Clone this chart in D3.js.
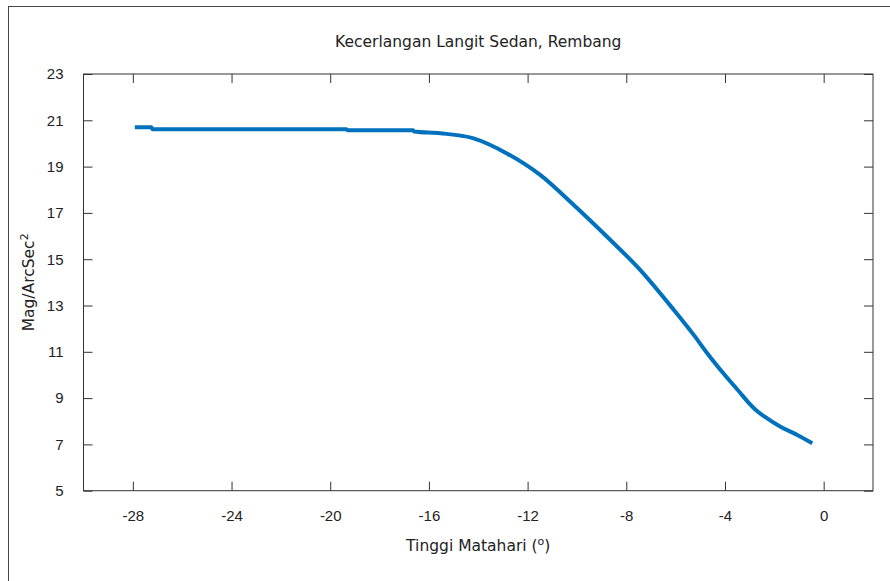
<!DOCTYPE html>
<html>
<head>
<meta charset="utf-8">
<script src="https://cdn.jsdelivr.net/npm/d3@7"></script>
<style>
  body { margin: 0; background: #fff; }
  svg { display: block; font-family: "DejaVu Sans", Verdana, sans-serif; }
  .axis line, .axis path { stroke: #333; }
  .axis text { fill: #222; font-size: 15px; }
</style>
</head>
<body>
<div id="chart"></div>
<script>
// sun altitude (deg) and sky brightness (mag/arcsec^2)
var altitude = [-27.92, -27.25, -27.2, -19.35, -19.3, -16.65, -16.6, -15.54, -14.19, -12.84,
    -11.49, -10.13, -8.78, -7.43, -6.08, -5.26, -4.72, -4.05, -3.37, -3.10, -2.69, -2.42,
    -1.75, -1.07, -0.46];
var brightness = [20.70, 20.70, 20.61, 20.61, 20.57, 20.57, 20.52, 20.44, 20.22, 19.57,
    18.64, 17.34, 15.97, 14.53, 12.82, 11.72, 10.94, 10.05, 9.21, 8.87, 8.43, 8.22,
    7.76, 7.41, 7.05];
var xTicks = [-28, -24, -20, -16, -12, -8, -4, 0];
var yTicks = [5, 7, 9, 11, 13, 15, 17, 19, 21, 23];

var width = 890, height = 581;
var plotLeft = 83.5, plotRight = 873, plotTop = 74, plotBottom = 490.7;

var svg = d3.select("#chart").append("svg")
    .attr("width", width)
    .attr("height", height);

// outer frame
svg.append("rect")
    .attr("x", 8.5).attr("y", 6.5)
    .attr("width", width).attr("height", height)
    .attr("fill", "none")
    .attr("stroke", "#444");

var x = d3.scaleLinear().domain([-30, 2]).range([plotLeft, plotRight]);
var y = d3.scaleLinear().domain([5, 23]).range([plotBottom, plotTop]);

var data = altitude.map(function (a, i) { return { a: a, m: brightness[i] }; });
var plain = function (d) { return String(d); };

// axes with inward ticks, mirrored on top and right
svg.append("g").attr("class", "axis")
    .attr("transform", "translate(0," + plotBottom + ")")
    .call(d3.axisBottom(x).tickValues(xTicks).tickSize(-9).tickPadding(20).tickSizeOuter(0).tickFormat(plain))
    .call(function (g) { g.select(".domain").remove(); });
svg.append("g").attr("class", "axis")
    .attr("transform", "translate(0," + plotTop + ")")
    .call(d3.axisTop(x).tickValues(xTicks).tickSize(-9).tickFormat("").tickSizeOuter(0))
    .call(function (g) { g.select(".domain").remove(); });
svg.append("g").attr("class", "axis")
    .attr("transform", "translate(" + plotLeft + ",0)")
    .call(d3.axisLeft(y).tickValues(yTicks).tickSize(-9).tickPadding(20).tickSizeOuter(0).tickFormat(plain))
    .call(function (g) { g.select(".domain").remove(); });
svg.append("g").attr("class", "axis")
    .attr("transform", "translate(" + plotRight + ",0)")
    .call(d3.axisRight(y).tickValues(yTicks).tickSize(-9).tickFormat("").tickSizeOuter(0))
    .call(function (g) { g.select(".domain").remove(); });

svg.append("rect")
    .attr("x", plotLeft).attr("y", plotTop)
    .attr("width", plotRight - plotLeft).attr("height", plotBottom - plotTop)
    .attr("fill", "none")
    .attr("stroke", "#333");

var line = d3.line()
    .x(function (d) { return x(d.a); })
    .y(function (d) { return y(d.m); })
    .curve(d3.curveMonotoneX);

svg.append("path")
    .datum(data)
    .attr("fill", "none")
    .attr("stroke", "#0072bd")
    .attr("stroke-width", 4)
    .attr("stroke-linejoin", "round")
    .attr("d", line);

// title and axis labels
svg.append("text")
    .attr("x", (plotLeft + plotRight) / 2).attr("y", 47)
    .attr("text-anchor", "middle")
    .attr("font-size", 15.5).attr("fill", "#222")
    .text("Kecerlangan Langit Sedan, Rembang");

var xl = svg.append("text")
    .attr("x", (plotLeft + plotRight) / 2).attr("y", 551)
    .attr("text-anchor", "middle")
    .attr("font-size", 15.5).attr("fill", "#222");
xl.append("tspan").text("Tinggi Matahari (");
xl.append("tspan").attr("dy", -6).attr("font-size", 11).text("o");
xl.append("tspan").attr("dy", 6).text(")");

var yl = svg.append("text")
    .attr("transform", "translate(34," + (plotTop + plotBottom) / 2 + ") rotate(-90)")
    .attr("text-anchor", "middle")
    .attr("font-size", 15.5).attr("fill", "#222");
yl.append("tspan").text("Mag/ArcSec");
yl.append("tspan").attr("dy", -6).attr("font-size", 11).text("2");
</script>
</body>
</html>
